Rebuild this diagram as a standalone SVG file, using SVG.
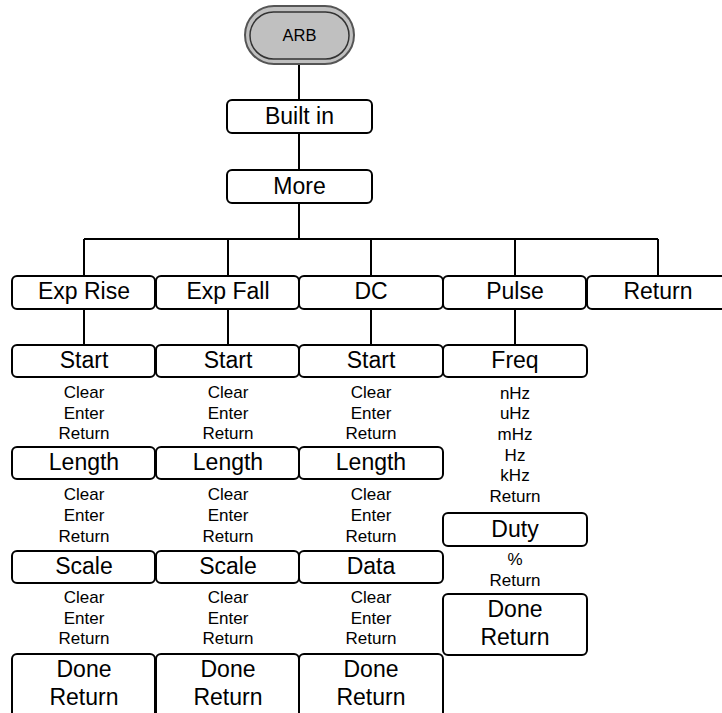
<svg xmlns="http://www.w3.org/2000/svg" width="722" height="713" viewBox="0 0 722 713">
<style>
.b{fill:#fff;stroke:#000;stroke-width:2}
.l{fill:none;stroke:#000;stroke-width:2}
.t{font-family:"Liberation Sans",Arial,sans-serif;font-size:23px;text-anchor:middle;fill:#000}
.s{font-family:"Liberation Sans",Arial,sans-serif;font-size:17px;text-anchor:middle;fill:#000}
</style>
<rect width="722" height="713" fill="#fff"/>
<g id="connectors">
<path class="l" d="M299 64V100M299 133V170M299 203V239M84 239H658M84 239V276M228 239V276M371 239V276M515 239V276M658 239V276M84 309V345M228 309V345M371 309V345M515 309V345"/>
</g>
<g id="arb">
<rect x="245" y="6" width="109" height="58" rx="29" fill="#c0c0c0" stroke="#555" stroke-width="2"/>
<rect x="250" y="12" width="99" height="47" rx="23.5" fill="#c0c0c0" stroke="#333" stroke-width="1.5"/>
<text class="s" x="299.5" y="41" style="font-size:16.5px">ARB</text>
</g>
<g id="builtin"><rect class="b" x="227" y="100" width="145" height="33" rx="5"/><text class="t" x="299.5" y="124">Built in</text></g>
<g id="more"><rect class="b" x="227" y="170" width="145" height="33" rx="5"/><text class="t" x="299.5" y="194">More</text></g>
<g id="exprise"><rect class="b" x="12" y="276" width="143" height="33" rx="5"/><text class="t" x="84" y="299">Exp Rise</text></g>
<g id="expfall"><rect class="b" x="156" y="276" width="143" height="33" rx="5"/><text class="t" x="228" y="299">Exp Fall</text></g>
<g id="dc"><rect class="b" x="299" y="276" width="144" height="33" rx="5"/><text class="t" x="371" y="299">DC</text></g>
<g id="pulse"><rect class="b" x="443" y="276" width="143" height="33" rx="5"/><text class="t" x="515" y="299">Pulse</text></g>
<g id="return"><rect class="b" x="587" y="276" width="145" height="33" rx="5"/><text class="t" x="658" y="299">Return</text></g>
<g id="col1">
<rect class="b" x="12" y="345" width="143" height="32" rx="5"/><text class="t" x="84" y="368">Start</text>
<text class="s" x="84" y="398">Clear</text><text class="s" x="84" y="418.5">Enter</text><text class="s" x="84" y="439">Return</text>
<rect class="b" x="12" y="447" width="143" height="32" rx="5"/><text class="t" x="84" y="470">Length</text>
<text class="s" x="84" y="500">Clear</text><text class="s" x="84" y="521">Enter</text><text class="s" x="84" y="541.5">Return</text>
<rect class="b" x="12" y="551" width="143" height="32" rx="5"/><text class="t" x="84" y="574">Scale</text>
<text class="s" x="84" y="603">Clear</text><text class="s" x="84" y="623.5">Enter</text><text class="s" x="84" y="644">Return</text>
<rect class="b" x="12" y="654" width="143" height="66" rx="5"/><text class="t" x="84" y="677">Done</text><text class="t" x="84" y="705">Return</text>
</g>
<g id="col2">
<rect class="b" x="156" y="345" width="143" height="32" rx="5"/><text class="t" x="228" y="368">Start</text>
<text class="s" x="228" y="398">Clear</text><text class="s" x="228" y="418.5">Enter</text><text class="s" x="228" y="439">Return</text>
<rect class="b" x="156" y="447" width="143" height="32" rx="5"/><text class="t" x="228" y="470">Length</text>
<text class="s" x="228" y="500">Clear</text><text class="s" x="228" y="521">Enter</text><text class="s" x="228" y="541.5">Return</text>
<rect class="b" x="156" y="551" width="143" height="32" rx="5"/><text class="t" x="228" y="574">Scale</text>
<text class="s" x="228" y="603">Clear</text><text class="s" x="228" y="623.5">Enter</text><text class="s" x="228" y="644">Return</text>
<rect class="b" x="156" y="654" width="143" height="66" rx="5"/><text class="t" x="228" y="677">Done</text><text class="t" x="228" y="705">Return</text>
</g>
<g id="col3">
<rect class="b" x="299" y="345" width="144" height="32" rx="5"/><text class="t" x="371" y="368">Start</text>
<text class="s" x="371" y="398">Clear</text><text class="s" x="371" y="418.5">Enter</text><text class="s" x="371" y="439">Return</text>
<rect class="b" x="299" y="447" width="144" height="32" rx="5"/><text class="t" x="371" y="470">Length</text>
<text class="s" x="371" y="500">Clear</text><text class="s" x="371" y="521">Enter</text><text class="s" x="371" y="541.5">Return</text>
<rect class="b" x="299" y="551" width="144" height="32" rx="5"/><text class="t" x="371" y="574">Data</text>
<text class="s" x="371" y="603">Clear</text><text class="s" x="371" y="623.5">Enter</text><text class="s" x="371" y="644">Return</text>
<rect class="b" x="299" y="654" width="144" height="66" rx="5"/><text class="t" x="371" y="677">Done</text><text class="t" x="371" y="705">Return</text>
</g>
<g id="col4">
<rect class="b" x="443" y="345" width="144" height="32" rx="5"/><text class="t" x="515" y="368">Freq</text>
<text class="s" x="515" y="398.5">nHz</text><text class="s" x="515" y="419">uHz</text><text class="s" x="515" y="439.5">mHz</text><text class="s" x="515" y="460.5">Hz</text><text class="s" x="515" y="481">kHz</text><text class="s" x="515" y="501.5">Return</text>
<rect class="b" x="443" y="513" width="144" height="33" rx="5"/><text class="t" x="515" y="536.5">Duty</text>
<text class="s" x="515" y="565">%</text><text class="s" x="515" y="586">Return</text>
<rect class="b" x="443" y="594" width="144" height="61" rx="5"/><text class="t" x="515" y="617">Done</text><text class="t" x="515" y="645">Return</text>
</g>
</svg>
